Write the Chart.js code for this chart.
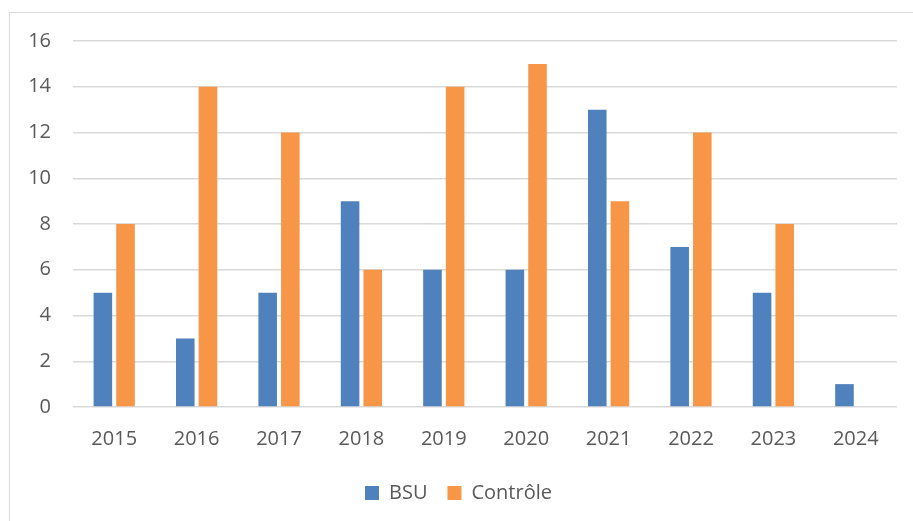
<!DOCTYPE html>
<html>
<head>
<meta charset="utf-8">
<script src="https://cdn.jsdelivr.net/npm/chart.js@4"></script>
<style>
  html, body { margin: 0; padding: 0; background: #fff; overflow: hidden; }
  #cadre { position: absolute; left: 9px; top: 12px; width: 1000px; height: 1000px; border: 1.5px solid #d9d9d9; }
  #wrap { position: absolute; left: 0; top: 0; width: 913px; height: 521px; }
</style>
</head>
<body>
<div id="cadre"></div>
<div id="wrap"><canvas id="barChart"></canvas></div>
<script>
const annees = ['2015', '2016', '2017', '2018', '2019', '2020', '2021', '2022', '2023', '2024'];
const valeursBSU = [5, 3, 5, 9, 6, 6, 13, 7, 5, 1];
const valeursControle = [8, 14, 12, 6, 14, 15, 9, 12, 8, 0];
const nomsSeries = ['BSU', 'Contrôle'];

const police = "'Open Sans', 'Liberation Sans', sans-serif";
const gris = '#595959';

new Chart(document.getElementById('barChart'), {
    type: 'bar',
    data: {
        labels: annees,
        datasets: [
            {
                label: nomsSeries[0],
                data: valeursBSU,
                backgroundColor: '#4f81bd',
                categoryPercentage: 0.55,
                barPercentage: 0.82
            },
            {
                label: nomsSeries[1],
                data: valeursControle,
                backgroundColor: '#f79646',
                categoryPercentage: 0.55,
                barPercentage: 0.82
            }
        ]
    },
    options: {
        responsive: true,
        maintainAspectRatio: false,
        animation: false,
        layout: {
            padding: { left: 20, top: 41, right: 16, bottom: 8 }
        },
        scales: {
            x: {
                grid: { display: false },
                border: { display: false },
                ticks: {
                    color: gris,
                    font: { family: police, size: 20 },
                    padding: 12
                },
                afterFit: (scale) => { scale.height = 56; }
            },
            y: {
                min: 0,
                max: 16,
                ticks: {
                    stepSize: 2,
                    color: gris,
                    font: { family: police, size: 20 },
                    padding: 22
                },
                grid: {
                    color: '#d9d9d9',
                    lineWidth: 1.5,
                    drawTicks: false
                },
                border: { display: false },
                afterFit: (scale) => { scale.width = 53; }
            }
        },
        plugins: {
            legend: {
                position: 'bottom',
                labels: {
                    color: gris,
                    font: { family: police, size: 20 },
                    boxWidth: 14,
                    boxHeight: 14,
                    padding: 20
                }
            },
            tooltip: { enabled: false }
        }
    }
});
</script>
</body>
</html>
